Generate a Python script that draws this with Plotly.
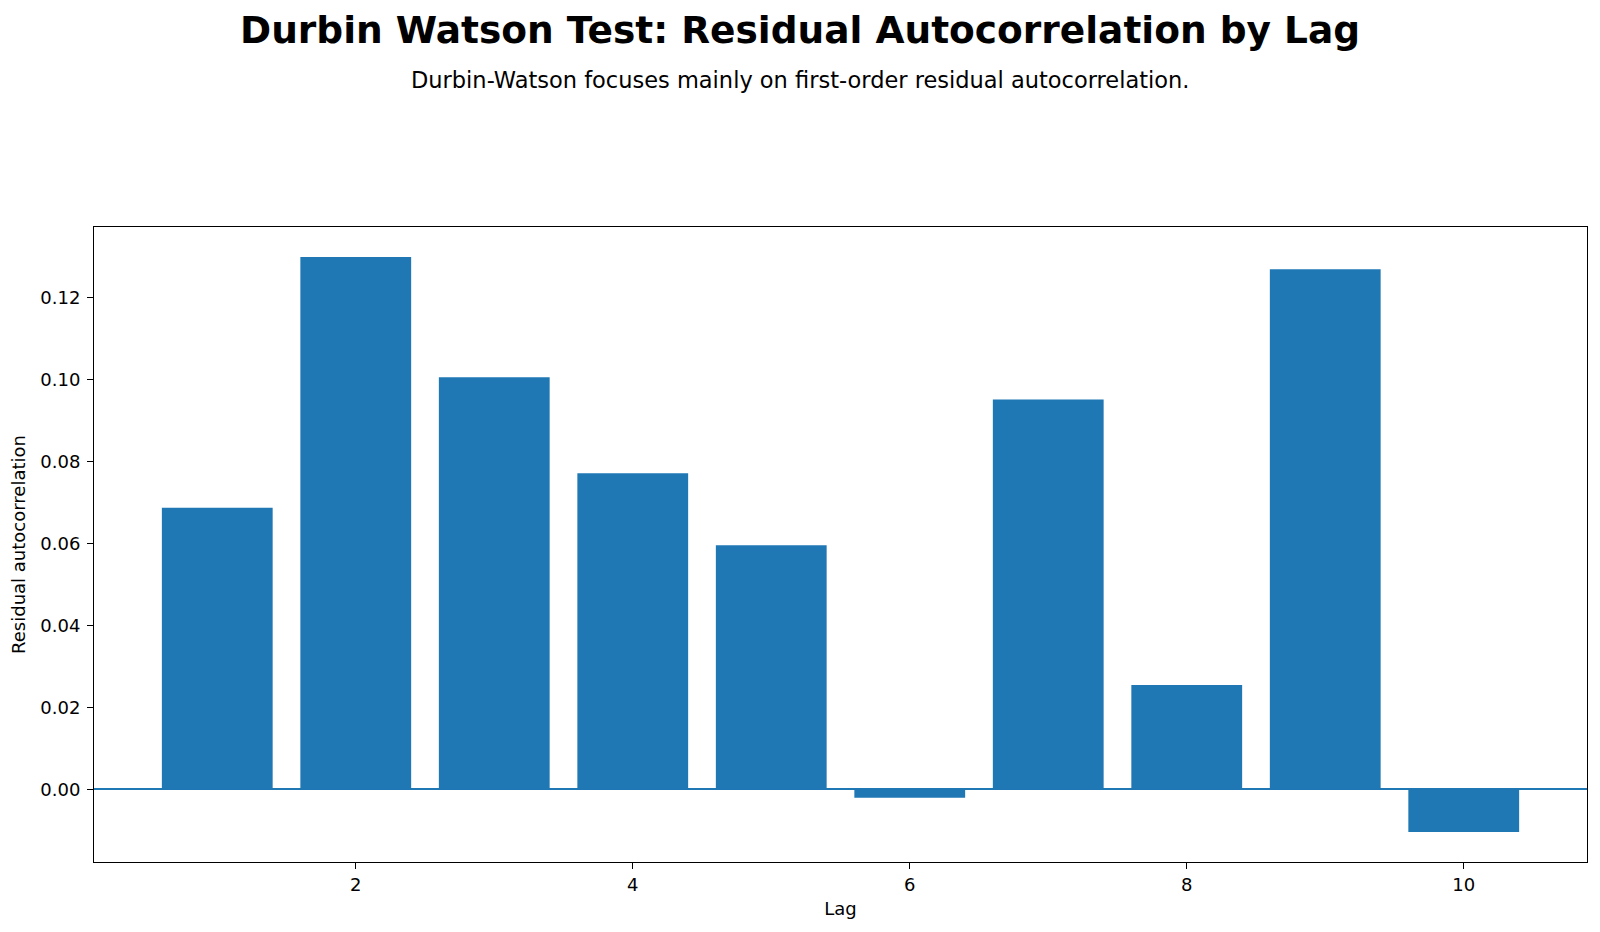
import plotly.graph_objects as go

lags = [1, 2, 3, 4, 5, 6, 7, 8, 9, 10]
autocorr = [0.0688, 0.1300, 0.1006, 0.0772, 0.0596, -0.0020, 0.0952, 0.0255, 0.1270, -0.0104]
x_ticks = [2, 4, 6, 8, 10]
y_ticks = [0.00, 0.02, 0.04, 0.06, 0.08, 0.10, 0.12]

title = "Durbin Watson Test: Residual Autocorrelation by Lag"
subtitle = "Durbin-Watson focuses mainly on first-order residual autocorrelation."

font = "DejaVu Sans"
blue = "#1f77b4"

W, H = 1600, 932
ML, MR, MT, MB = 94, 13, 227, 70
center_x = (W / 2 - ML) / (W - ML - MR)

fig = go.Figure()
fig.add_trace(go.Bar(x=lags, y=autocorr, width=0.8, marker=dict(color=blue, line=dict(width=0))))

fig.update_layout(
    width=W, height=H,
    margin=dict(l=ML, r=MR, t=MT, b=MB, autoexpand=False),
    paper_bgcolor="white", plot_bgcolor="white",
    font=dict(family=font, size=18, color="black"),
    showlegend=False,
    annotations=[
        dict(text="<b>" + title + "</b>", xref="paper", yref="paper", x=center_x, y=1, yshift=197,
             xanchor="center", yanchor="middle", showarrow=False,
             font=dict(family=font, size=37.5, color="black")),
        dict(text=subtitle, xref="paper", yref="paper", x=center_x, y=1, yshift=147,
             xanchor="center", yanchor="middle", showarrow=False,
             font=dict(family=font, size=22.5, color="black")),
    ],
)

fig.update_xaxes(
    range=[0.11, 10.89], tickvals=x_ticks, ticktext=[str(v) for v in x_ticks],
    ticks="outside", ticklen=6, tickwidth=1, tickcolor="black",
    showline=True, linecolor="black", linewidth=1, mirror=True,
    showgrid=False, zeroline=False,
    title=dict(text="Lag", font=dict(size=18), standoff=8),
    tickfont=dict(size=18),
)
fig.update_yaxes(
    range=[-0.0177, 0.1373], tickvals=y_ticks, ticktext=[f"{v:.2f}" for v in y_ticks],
    ticks="outside", ticklen=6, tickwidth=1, tickcolor="black", ticklabelstandoff=3,
    showline=True, linecolor="black", linewidth=1, mirror=True,
    showgrid=False, zeroline=True, zerolinecolor=blue, zerolinewidth=1.5,
    title=dict(text="Residual autocorrelation", font=dict(size=18), standoff=10),
    tickfont=dict(size=18),
)

fig.write_html("out.html")
